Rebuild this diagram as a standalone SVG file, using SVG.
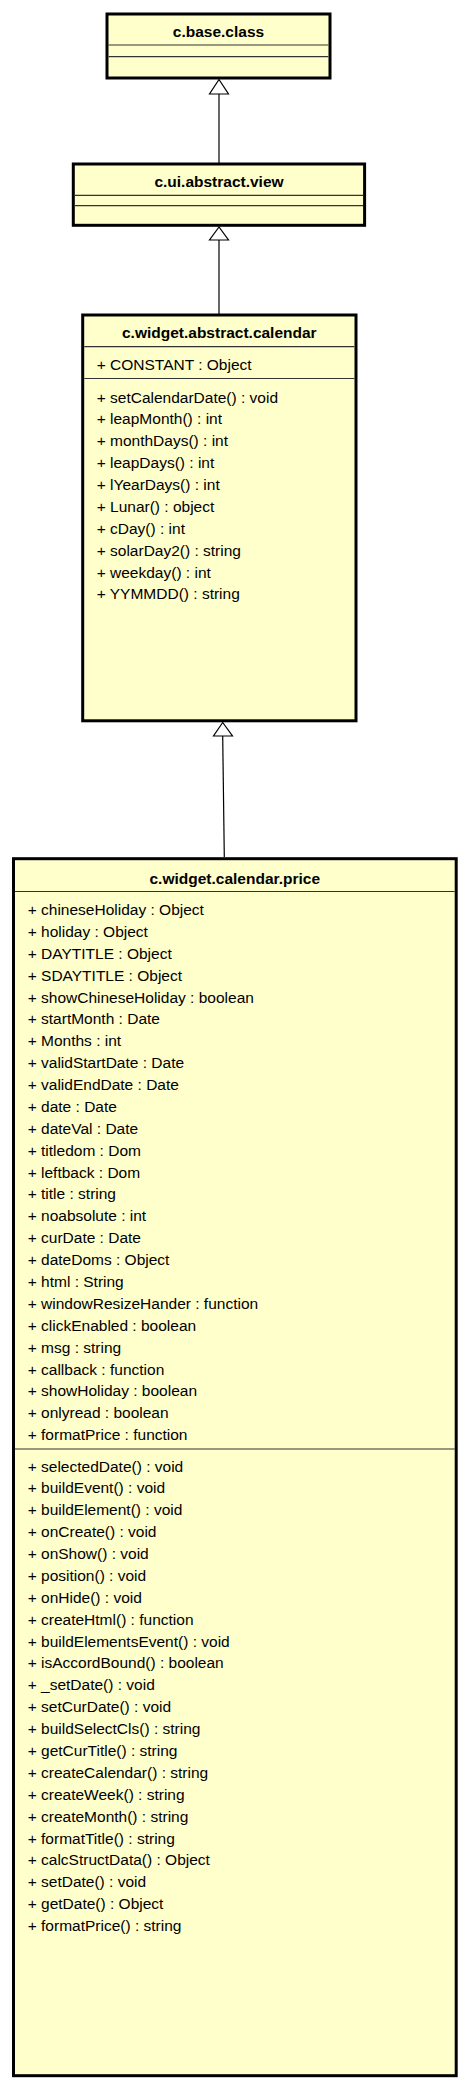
<svg xmlns="http://www.w3.org/2000/svg" width="470" height="2089" viewBox="0 0 470 2089">
<style>
.box{fill:#FFFFCC;stroke:#000;stroke-width:3}
.sep{stroke:#333;stroke-width:1.2}
.t{font-family:"Liberation Sans",Arial,sans-serif;font-size:15.5px;font-weight:bold;text-anchor:middle;fill:#000}
.m{font-family:"Liberation Sans",Arial,sans-serif;font-size:15.5px;fill:#000}
.c{stroke:#000;stroke-width:1.2;fill:none}
.h{fill:#fff;stroke:#000;stroke-width:1.2}
</style>
<rect width="470" height="2089" fill="#fff"/>
<g id="connectors">
<line class="c" x1="219" y1="94" x2="219" y2="163"/>
<polygon class="h" points="219,79.5 209.5,94 228.5,94"/>
<line class="c" x1="219" y1="240" x2="219" y2="314"/>
<polygon class="h" points="219,227 209.5,240 228.5,240"/>
<line class="c" x1="222.7" y1="736" x2="224.3" y2="857"/>
<polygon class="h" points="222.7,722.5 213.5,736 232.5,736"/>
</g>
<g id="c.base.class">
<rect class="box" x="107" y="14" width="223" height="64"/>
<line class="sep" x1="108.5" y1="45" x2="328.5" y2="45"/>
<line class="sep" x1="108.5" y1="56.7" x2="328.5" y2="56.7"/>
<text class="t" x="218.5" y="37">c.base.class</text>
</g>
<g id="c.ui.abstract.view">
<rect class="box" x="73.3" y="164" width="291.3" height="61.3"/>
<line class="sep" x1="74.8" y1="195.3" x2="363.1" y2="195.3"/>
<line class="sep" x1="74.8" y1="205.7" x2="363.1" y2="205.7"/>
<text class="t" x="219" y="187">c.ui.abstract.view</text>
</g>
<g id="c.widget.abstract.calendar">
<rect class="box" x="82.7" y="315" width="273.3" height="405.8"/>
<line class="sep" x1="84.2" y1="346.7" x2="354.5" y2="346.7"/>
<line class="sep" x1="84.2" y1="378.5" x2="354.5" y2="378.5"/>
<text class="t" x="219.3" y="338">c.widget.abstract.calendar</text>
<text class="m" x="96.7" y="369.5">+ CONSTANT : Object</text>
<text class="m" x="96.7" y="402.5">+ setCalendarDate() : void</text>
<text class="m" x="96.7" y="424.4">+ leapMonth() : int</text>
<text class="m" x="96.7" y="446.3">+ monthDays() : int</text>
<text class="m" x="96.7" y="468.1">+ leapDays() : int</text>
<text class="m" x="96.7" y="490">+ lYearDays() : int</text>
<text class="m" x="96.7" y="511.9">+ Lunar() : object</text>
<text class="m" x="96.7" y="533.8">+ cDay() : int</text>
<text class="m" x="96.7" y="555.7">+ solarDay2() : string</text>
<text class="m" x="96.7" y="577.5">+ weekday() : int</text>
<text class="m" x="96.7" y="599.4">+ YYMMDD() : string</text>
</g>
<g id="c.widget.calendar.price">
<rect class="box" x="13.5" y="858.7" width="442.7" height="1217"/>
<line class="sep" x1="15" y1="891.5" x2="454.7" y2="891.5"/>
<line class="sep" x1="15" y1="1449" x2="454.7" y2="1449"/>
<text class="t" x="234.8" y="883.5">c.widget.calendar.price</text>
<text class="m" x="27.7" y="915">+ chineseHoliday : Object</text>
<text class="m" x="27.7" y="936.9">+ holiday : Object</text>
<text class="m" x="27.7" y="958.8">+ DAYTITLE : Object</text>
<text class="m" x="27.7" y="980.6">+ SDAYTITLE : Object</text>
<text class="m" x="27.7" y="1002.5">+ showChineseHoliday : boolean</text>
<text class="m" x="27.7" y="1024.4">+ startMonth : Date</text>
<text class="m" x="27.7" y="1046.3">+ Months : int</text>
<text class="m" x="27.7" y="1068.2">+ validStartDate : Date</text>
<text class="m" x="27.7" y="1090">+ validEndDate : Date</text>
<text class="m" x="27.7" y="1111.9">+ date : Date</text>
<text class="m" x="27.7" y="1133.8">+ dateVal : Date</text>
<text class="m" x="27.7" y="1155.7">+ titledom : Dom</text>
<text class="m" x="27.7" y="1177.6">+ leftback : Dom</text>
<text class="m" x="27.7" y="1199.4">+ title : string</text>
<text class="m" x="27.7" y="1221.3">+ noabsolute : int</text>
<text class="m" x="27.7" y="1243.2">+ curDate : Date</text>
<text class="m" x="27.7" y="1265.1">+ dateDoms : Object</text>
<text class="m" x="27.7" y="1287">+ html : String</text>
<text class="m" x="27.7" y="1308.8">+ windowResizeHander : function</text>
<text class="m" x="27.7" y="1330.7">+ clickEnabled : boolean</text>
<text class="m" x="27.7" y="1352.6">+ msg : string</text>
<text class="m" x="27.7" y="1374.5">+ callback : function</text>
<text class="m" x="27.7" y="1396.4">+ showHoliday : boolean</text>
<text class="m" x="27.7" y="1418.2">+ onlyread : boolean</text>
<text class="m" x="27.7" y="1440.1">+ formatPrice : function</text>
<text class="m" x="27.7" y="1471.5">+ selectedDate() : void</text>
<text class="m" x="27.7" y="1493.4">+ buildEvent() : void</text>
<text class="m" x="27.7" y="1515.3">+ buildElement() : void</text>
<text class="m" x="27.7" y="1537.1">+ onCreate() : void</text>
<text class="m" x="27.7" y="1559">+ onShow() : void</text>
<text class="m" x="27.7" y="1580.9">+ position() : void</text>
<text class="m" x="27.7" y="1602.8">+ onHide() : void</text>
<text class="m" x="27.7" y="1624.7">+ createHtml() : function</text>
<text class="m" x="27.7" y="1646.5">+ buildElementsEvent() : void</text>
<text class="m" x="27.7" y="1668.4">+ isAccordBound() : boolean</text>
<text class="m" x="27.7" y="1690.3">+ _setDate() : void</text>
<text class="m" x="27.7" y="1712.2">+ setCurDate() : void</text>
<text class="m" x="27.7" y="1734.1">+ buildSelectCls() : string</text>
<text class="m" x="27.7" y="1755.9">+ getCurTitle() : string</text>
<text class="m" x="27.7" y="1777.8">+ createCalendar() : string</text>
<text class="m" x="27.7" y="1799.7">+ createWeek() : string</text>
<text class="m" x="27.7" y="1821.6">+ createMonth() : string</text>
<text class="m" x="27.7" y="1843.5">+ formatTitle() : string</text>
<text class="m" x="27.7" y="1865.3">+ calcStructData() : Object</text>
<text class="m" x="27.7" y="1887.2">+ setDate() : void</text>
<text class="m" x="27.7" y="1909.1">+ getDate() : Object</text>
<text class="m" x="27.7" y="1931">+ formatPrice() : string</text>
</g>
</svg>
